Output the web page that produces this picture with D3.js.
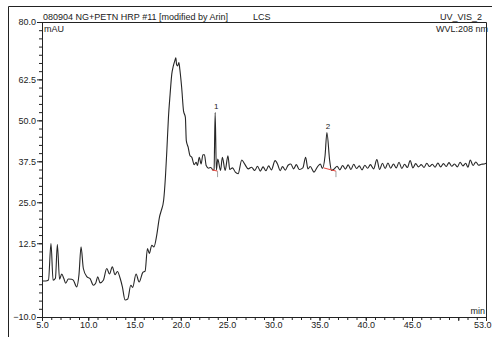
<!DOCTYPE html>
<html>
<head>
<meta charset="utf-8">
<script src="https://cdn.jsdelivr.net/npm/d3@7"></script>
<style>
  body { margin: 0; background: #fff; }
  text { font-family: "Liberation Sans", Arial, sans-serif; fill: #222; }
</style>
</head>
<body>
<div id="chart"></div>
<script>
// retention time (min) and signal (mAU)
var times = [5.0, 5.4, 5.7, 5.97, 6.2, 6.45, 6.66, 6.9, 7.13, 7.35, 7.56, 7.85, 8.2, 8.4, 8.75, 9.0, 9.22, 9.47, 9.84, 10.2,
  10.55, 10.8, 11.03, 11.28, 11.63, 12.0, 12.3, 12.6, 12.9, 13.15, 13.44, 13.69, 13.98, 14.27, 14.6, 14.8, 15.17, 15.5, 15.9, 16.15,
  16.4, 16.6, 16.87, 17.1, 17.4, 17.7, 17.9, 18.15, 18.35, 18.5, 18.67, 18.85, 19.03, 19.2, 19.35, 19.47, 19.55, 19.65, 19.8, 19.9,
  20.1, 20.3, 20.5, 20.6, 20.8, 21.0, 21.2, 21.45, 21.67, 21.8, 22.0, 22.2, 22.4, 22.56, 22.75, 23.0, 23.25, 23.5, 23.6, 23.72,
  23.85, 24.0, 24.3, 24.5, 24.8, 25.1, 25.3, 25.6, 25.9, 26.2, 26.6, 26.9, 27.3, 27.65, 28.0, 28.3, 28.6, 28.9, 29.2, 29.5,
  29.8, 30.2, 30.5, 30.75, 31.0, 31.3, 31.6, 31.9, 32.2, 32.5, 32.8, 33.2, 33.5, 33.75, 34.0, 34.4, 34.8, 35.1, 35.3, 35.6,
  35.8, 36.1, 36.3, 36.6, 36.9, 37.2, 37.5, 37.8, 38.1, 38.4, 38.7, 39.0, 39.3, 39.6, 39.9, 40.2, 40.5, 40.85, 41.2, 41.5,
  41.8, 42.1, 42.4, 42.7, 43.0, 43.3, 43.6, 43.9, 44.2, 44.5, 44.8, 45.1, 45.4, 45.7, 46.0, 46.3, 46.6, 46.9, 47.2, 47.5,
  47.8, 48.1, 48.4, 48.7, 49.0, 49.3, 49.6, 49.9, 50.2, 50.5, 50.8, 51.05, 51.3, 51.6, 51.9, 52.2, 52.5, 52.8, 53.0];
var signal = [1.0, 1.0, 1.3, 12.4, 1.2, 1.8, 12.1, 1.5, 3.1, 1.8, 0.3, 1.6, 1.5, 1.2, -0.8, 3.0, 11.4, 4.8, 2.3, 1.7,
  -0.3, 0.3, 2.3, 0.4, 1.2, 4.8, 3.1, 5.3, 2.9, 3.9, 1.9, -0.8, -4.8, -4.5, -0.3, -1.0, 3.1, 0.7, 3.6, 4.0,
  10.9, 9.4, 11.9, 11.4, 14.9, 20.5, 22.5, 25.6, 33.0, 41.0, 50.9, 58.0, 64.1, 66.6, 68.1, 69.1, 67.0, 66.6, 67.6, 65.6,
  60.0, 52.9, 50.9, 43.8, 41.8, 39.2, 38.7, 36.5, 37.2, 36.2, 38.7, 36.7, 39.5, 39.5, 36.2, 35.4, 35.6, 34.8, 35.0, 52.4,
  34.8, 38.2, 34.7, 38.7, 34.7, 39.2, 35.0, 35.5, 34.2, 33.7, 37.9, 36.7, 35.2, 35.7, 34.7, 36.0, 34.5, 35.8, 34.6, 36.1,
  34.9, 37.7, 36.4, 34.6, 35.9, 34.8, 36.3, 36.7, 35.2, 36.5, 35.0, 35.5, 38.7, 35.2, 35.9, 34.2, 35.9, 36.7, 35.3, 39.2,
  46.3, 37.7, 34.7, 35.2, 36.0, 34.9, 36.2, 35.1, 36.4, 35.0, 36.6, 35.3, 36.1, 34.9, 36.3, 35.4, 36.5, 35.2, 38.0, 35.0,
  36.9, 35.3, 37.0, 35.4, 36.7, 35.5, 37.2, 35.3, 36.6, 35.6, 37.7, 35.5, 36.8, 35.8, 36.5, 35.6, 36.9, 35.9, 36.6, 35.7,
  37.0, 35.8, 36.8, 35.9, 37.1, 36.0, 36.7, 35.8, 37.2, 36.1, 36.9, 35.7, 37.9, 36.2, 37.3, 36.3, 36.6, 36.7, 36.9];

// integrated peaks: label, apex, baseline start/end
var peakNames = ["1", "2"];
var peakApex = [[23.72, 52.4], [35.8, 46.3]];
var peakBase = [[[23.37, 34.9], [23.98, 34.5]], [[35.44, 35.5], [36.78, 34.5]]];

var xTickLabels = [5, 10, 15, 20, 25, 30, 35, 40, 45, 53];
var yTickLabels = [-10, 12.5, 25, 37.5, 50, 62.5, 80];

var cfg = {
  w: 492,
  h: 337,
  margin: {top: 22, right: 6, bottom: 20, left: 42},
  line: "#262626",
  frame: "#222",
  base: "#e8453c"
};

var svg = d3.select("#chart")
  .append("svg")
  .attr("width", cfg.w)
  .attr("height", cfg.h);

var x = d3.scaleLinear().domain([5, 53]).range([cfg.margin.left, cfg.w - cfg.margin.right]);
var y = d3.scaleLinear().domain([-10, 80]).range([cfg.h - cfg.margin.bottom, cfg.margin.top]);

// outer frame (left + top only)
svg.append("path")
  .attr("d", "M8.5," + cfg.h + "V6.5H" + cfg.w)
  .attr("fill", "none")
  .attr("stroke", cfg.frame);

// header texts
svg.append("text").attr("x", 43).attr("y", 20).style("font-size", "9px")
  .text("080904 NG+PETN HRP #11 [modified by Arin]");
svg.append("text").attr("x", 253).attr("y", 20).style("font-size", "9px").text("LCS");
svg.append("text").attr("x", 482).attr("y", 20).attr("text-anchor", "end").style("font-size", "9px").text("UV_VIS_2");

// plot box top + right
svg.append("path")
  .attr("d", "M" + x(5) + "," + (y(80) + 0.5) + "H" + (x(53) + 0.5) + "V" + y(-10))
  .attr("fill", "none")
  .attr("stroke", cfg.frame);

// x axis: minor every 1 min, labels every 5 (plus end)
var xAxisG = svg.append("g").attr("transform", "translate(0," + y(-10) + ")");
xAxisG.call(d3.axisBottom(x).tickValues(d3.range(5, 54, 1)).tickSize(3).tickFormat(""));
xAxisG.append("g").call(d3.axisBottom(x).tickValues(d3.range(5, 54, 5).concat([53])).tickSize(4)
  .tickFormat(function(d) { return xTickLabels.indexOf(d) >= 0 ? d.toFixed(1) : ""; }));
xAxisG.selectAll(".domain").attr("stroke", cfg.frame);
xAxisG.selectAll(".tick line").attr("stroke", cfg.frame);
xAxisG.selectAll("text").style("font-size", "9px").style("font-family", "Liberation Sans, Arial, sans-serif")
  .attr("fill", "#222").attr("dy", "0.65em").attr("y", 5);
// last label would run off the page edge; pull it in
xAxisG.selectAll("text").filter(function(d) { return d === 53; })
  .attr("text-anchor", "end").attr("x", cfg.w - 1 - x(53));

// y axis: minor every 2.5, labels on the listed values
var yAxisG = svg.append("g").attr("transform", "translate(" + x(5) + ",0)");
yAxisG.call(d3.axisLeft(y).tickValues(d3.range(-10, 80.1, 2.5)).tickSize(3).tickFormat(""));
yAxisG.append("g").call(d3.axisLeft(y).tickValues(yTickLabels).tickSize(5).tickFormat(d3.format(".1f")));
yAxisG.selectAll(".domain").attr("stroke", cfg.frame);
yAxisG.selectAll(".tick line").attr("stroke", cfg.frame);
yAxisG.selectAll("text").style("font-size", "9px").style("font-family", "Liberation Sans, Arial, sans-serif")
  .attr("fill", "#222").attr("x", -6);

svg.append("text").attr("x", 44).attr("y", 32).style("font-size", "9px").text("mAU");
svg.append("text").attr("x", 488).attr("y", 32).attr("text-anchor", "end").style("font-size", "9px").text("WVL:208 nm");
svg.append("text").attr("x", 485).attr("y", y(-10) - 3).attr("text-anchor", "end").style("font-size", "9px").text("min");

// chromatogram trace
var pts = times.map(function(t, i) { return [t, signal[i]]; });
var line = d3.line()
  .x(function(d) { return x(d[0]); })
  .y(function(d) { return y(d[1]); })
  .curve(d3.curveMonotoneX);

svg.append("path")
  .datum(pts)
  .attr("d", line)
  .attr("fill", "none")
  .attr("stroke", cfg.line)
  .attr("stroke-width", 1.1);

// peak baselines, end markers and labels
peakNames.forEach(function(name, i) {
  var b = peakBase[i];
  svg.append("line")
    .attr("x1", x(b[0][0])).attr("y1", y(b[0][1]))
    .attr("x2", x(b[1][0])).attr("y2", y(b[1][1]))
    .attr("stroke", cfg.base).attr("stroke-width", 1);
  svg.append("line")
    .attr("x1", x(b[1][0])).attr("y1", y(b[1][1]))
    .attr("x2", x(b[1][0])).attr("y2", y(b[1][1]) + 6)
    .attr("stroke", "#888").attr("stroke-width", 0.8);
  svg.append("text")
    .attr("x", x(peakApex[i][0]) + 1)
    .attr("y", y(peakApex[i][1]) - 3)
    .attr("text-anchor", "middle")
    .style("font-size", "8px")
    .text(name);
});
</script>
</body>
</html>
